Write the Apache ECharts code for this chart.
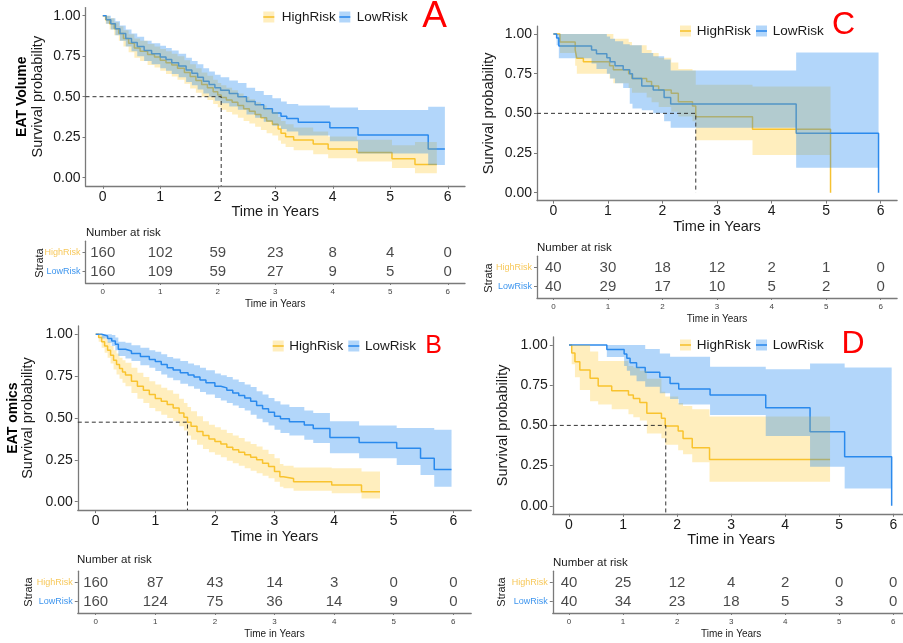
<!DOCTYPE html>
<html><head><meta charset="utf-8">
<script src="https://cdn.jsdelivr.net/npm/echarts@6/dist/echarts.min.js"></script>
<style>html,body{margin:0;padding:0;background:#fff}#c{width:903px;height:643px}</style>
</head><body><div id="c"></div>
<script>
// ---------------- DATA ----------------
const years = [0, 1, 2, 3, 4, 5, 6];
const probTicks = [0, 0.25, 0.5, 0.75, 1];
const groups = ['HighRisk', 'LowRisk'];

// Panel A (EAT Volume)
const tA_high  = [0,0.05,0.12,0.2,0.28,0.36,0.45,0.55,0.65,0.78,0.9,1.0,1.1,1.2,1.3,1.42,1.52,1.62,1.72,1.82,1.92,2.0,2.06,2.15,2.25,2.35,2.45,2.55,2.65,2.75,2.85,2.95,3.05,3.1,3.18,3.32,3.66,3.92,4.42,5.03,5.43,5.81];
const sA_high  = [1,.975,.95,.92,.89,.86,.83,.80,.78,.76,.745,.725,.71,.695,.675,.65,.625,.60,.575,.555,.53,.51,.495,.48,.465,.445,.425,.41,.39,.37,.35,.33,.30,.275,.253,.233,.208,.177,.156,.117,.082,.082];
const loA_high = [1,.95,.915,.88,.845,.81,.775,.74,.72,.695,.68,.66,.64,.625,.605,.58,.55,.525,.50,.48,.455,.435,.42,.405,.39,.37,.35,.335,.315,.295,.275,.26,.23,.21,.19,.17,.145,.12,.10,.06,.027,.027];
const upA_high = [1,1,.985,.96,.935,.91,.885,.86,.845,.825,.81,.795,.78,.765,.75,.725,.70,.675,.65,.63,.605,.585,.57,.555,.54,.52,.50,.485,.465,.445,.425,.405,.375,.35,.33,.31,.285,.255,.235,.20,.22,.22];
const tA_low   = [0,0.06,0.14,0.22,0.3,0.4,0.5,0.6,0.72,0.85,1.0,1.1,1.2,1.32,1.45,1.55,1.65,1.75,1.85,1.95,2.05,2.2,2.35,2.5,2.65,2.8,2.95,3.1,3.2,3.4,3.95,4.44,5.66,5.95];
const sA_low   = [1,.975,.95,.92,.89,.86,.835,.81,.785,.765,.745,.73,.71,.69,.665,.645,.62,.595,.575,.555,.54,.52,.50,.47,.45,.425,.40,.38,.366,.342,.309,.263,.177,.177];
const loA_low  = [1,.95,.915,.88,.845,.81,.78,.75,.72,.70,.675,.66,.64,.62,.59,.57,.545,.52,.50,.475,.46,.44,.42,.39,.37,.345,.32,.30,.285,.26,.225,.15,.078,.078];
const upA_low  = [1,1,.985,.965,.94,.915,.89,.87,.845,.83,.815,.80,.785,.765,.74,.72,.70,.675,.655,.635,.62,.60,.585,.555,.535,.51,.49,.47,.455,.445,.434,.418,.438,.438];
const riskA_high = [160,102,59,23,8,4,0];
const riskA_low  = [160,109,59,27,9,5,0];

// Panel B (EAT omics)
const tB_high  = [0,.05,.1,.15,.2,.25,.3,.35,.4,.45,.5,.6,.7,.8,.9,1.0,1.1,1.2,1.3,1.4,1.48,1.54,1.6,1.7,1.8,1.9,2.0,2.1,2.2,2.3,2.4,2.5,2.6,2.7,2.8,2.9,3.0,3.09,3.15,3.32,3.96,4.46,4.77];
const sB_high  = [1,.98,.955,.93,.905,.875,.845,.82,.795,.775,.757,.72,.69,.665,.64,.617,.60,.58,.56,.53,.505,.475,.45,.42,.395,.375,.36,.345,.325,.31,.295,.28,.265,.25,.23,.21,.18,.149,.139,.12,.10,.06,.06];
const loB_high = [1,.955,.92,.89,.86,.825,.79,.76,.735,.71,.69,.65,.615,.59,.56,.54,.52,.50,.48,.45,.425,.395,.37,.34,.315,.295,.28,.265,.245,.23,.215,.20,.185,.17,.155,.14,.12,.09,.08,.065,.05,.02,.02];
const upB_high = [1,1,.99,.975,.955,.93,.905,.885,.86,.845,.83,.80,.77,.745,.72,.70,.68,.665,.645,.615,.59,.565,.54,.51,.48,.46,.445,.43,.41,.395,.38,.36,.345,.33,.31,.285,.26,.225,.215,.205,.20,.18,.18];
const tB_low   = [0,.1,.2,.27,.33,.38,.5,.6,.75,.9,1.0,1.1,1.2,1.3,1.42,1.55,1.65,1.75,1.85,2.0,2.1,2.2,2.3,2.4,2.5,2.6,2.7,2.8,2.9,3.0,3.1,3.25,3.5,3.65,3.93,4.42,5.05,5.45,5.68,5.97];
const sB_low   = [1,.99,.975,.96,.94,.91,.90,.885,.867,.85,.837,.82,.80,.787,.77,.757,.745,.727,.71,.69,.68,.665,.65,.635,.62,.60,.575,.555,.535,.51,.495,.478,.458,.438,.384,.353,.319,.259,.193,.193];
const loB_low  = [1,.975,.95,.93,.905,.87,.855,.84,.815,.80,.78,.76,.74,.725,.705,.69,.675,.655,.64,.62,.605,.59,.575,.56,.545,.52,.495,.475,.455,.43,.41,.395,.37,.35,.29,.26,.22,.16,.09,.09];
const upB_low  = [1,1,1,.995,.98,.955,.95,.935,.92,.905,.895,.88,.865,.855,.84,.825,.815,.80,.785,.765,.755,.745,.73,.715,.70,.685,.66,.64,.62,.60,.58,.565,.545,.53,.48,.455,.44,.44,.43,.43];
const riskB_high = [160,87,43,14,3,0,0];
const riskB_low  = [160,124,75,36,14,9,0];

// Panel C
const tC_high  = [0,.12,.4,.43,.55,1.03,1.1,1.38,1.44,1.71,1.8,1.93,2.16,2.29,2.55,2.61,3.65,5.08];
const sC_high  = [1,.95,.90,.847,.826,.80,.775,.75,.72,.70,.672,.647,.626,.573,.546,.479,.40,0];
const loC_high = [1,.88,.80,.75,.75,.72,.69,.66,.63,.60,.57,.54,.51,.48,.45,.33,.237,.237];
const upC_high = [1,1,1,1,1,1,.97,.95,.93,.90,.88,.85,.82,.78,.77,.68,.67,.67];
const tC_low   = [0,.06,.1,.7,.79,.98,1.04,1.13,1.28,1.4,1.45,1.62,1.83,2.03,2.15,4.45,5.96];
const sC_low   = [1,.975,.925,.90,.875,.85,.825,.80,.775,.75,.72,.672,.647,.60,.559,.374,0];
const loC_low  = [1,.93,.847,.815,.78,.75,.72,.69,.66,.56,.53,.52,.50,.45,.41,.157,.157];
const upC_low  = [1,1,1,1,1,.985,.97,.955,.935,.93,.93,.88,.86,.84,.77,.884,.884];
const riskC_high = [40,30,18,12,2,1,0];
const riskC_low  = [40,29,17,10,5,2,0];

// Panel D
const tD_high  = [0,.05,.11,.20,.39,.54,.79,1.10,1.19,1.31,1.44,1.71,1.78,2.02,2.11,2.28,2.60,4.83];
const sD_high  = [1,.95,.896,.844,.793,.745,.716,.689,.668,.643,.575,.544,.496,.465,.419,.361,.288,.288];
const loD_high = [1,.88,.80,.72,.65,.63,.60,.57,.55,.53,.45,.42,.38,.345,.32,.27,.15,.15];
const upD_high = [1,1,1,1,.96,.90,.90,.87,.86,.84,.79,.71,.68,.64,.62,.60,.555,.555];
const tD_low   = [0,.70,1.02,1.07,1.13,1.25,1.41,1.68,1.87,2.03,2.61,3.64,4.46,5.1,5.97];
const sD_low   = [1,.973,.945,.918,.89,.86,.83,.80,.76,.726,.689,.61,.46,.305,0];
const loD_low  = [1,.925,.87,.84,.81,.775,.74,.70,.665,.63,.564,.434,.243,.108,.108];
const upD_low  = [1,1,1,1,1,1,.975,.948,.927,.927,.865,.85,.885,.86,.86];
const riskD_high = [40,25,12,4,2,0,0];
const riskD_low  = [40,34,23,18,5,3,0];

// median survival lines for panels A, B, C, D: time, level, lower end of the drop line
const medT = [2.06, 1.54, 2.61, 1.79];
const medS = [0.5, 0.475, 0.5, 0.5];
const medEnd = [-0.05, -0.05, 0, -0.05];

// ---------------- STYLE / LAYOUT ----------------
const FONT = '"Liberation Sans", Arial, Helvetica, sans-serif';
const HIGH_LINE = '#F6C232', HIGH_FILL = 'rgba(255,198,40,0.30)';
const LOW_LINE = '#2E8AEC', LOW_FILL = 'rgba(35,138,240,0.35)';
const HIGH_LAB = '#F7C85A', LOW_LAB = '#3D95EE';
const AXIS = '#7a7a7a';
const TXT = '#1a1a1a';

const panels = [
  { letter:'A', lp:[434.5,17], ls:37,
    plot:{left:85.5, top:7.6, width:379.5, height:178.2},
    table:{left:85.5, top:241.2, width:379.5, height:41.8},
    high:[tA_high,sA_high,loA_high,upA_high], low:[tA_low,sA_low,loA_low,upA_low],
    risk:[riskA_high, riskA_low], med:0,
    yt:{bold:'EAT Volume', bx:22, x:38}, leg:{y:17, hx:263.3, htx:281.7, lx:339.3, ltx:356.7},
    strata:[40,263], nar:[86,233] },
  { letter:'C', lp:[843.5,25], ls:32,
    plot:{left:537, top:26.1, width:360.1, height:174.5},
    table:{left:537, top:256.2, width:360.1, height:41.8},
    high:[tC_high,sC_high,loC_high,upC_high], low:[tC_low,sC_low,loC_low,upC_low],
    risk:[riskC_high, riskC_low], med:2,
    yt:{x:489}, leg:{y:31, hx:680, htx:696.7, lx:756, ltx:772.7},
    strata:[489,278], nar:[537,248] },
  { letter:'B', lp:[433.5,346.5], ls:25,
    plot:{left:77.8, top:325.9, width:393.4, height:184.2},
    table:{left:77.8, top:571.2, width:393.4, height:41.8},
    high:[tB_high,sB_high,loB_high,upB_high], low:[tB_low,sB_low,loB_low,upB_low],
    risk:[riskB_high, riskB_low], med:1,
    yt:{bold:'EAT omics', bx:13, x:28}, leg:{y:346, hx:272.7, htx:289.3, lx:348.3, ltx:365},
    strata:[29,592], nar:[77,560] },
  { letter:'D', lp:[853,344.5], ls:32,
    plot:{left:552.8, top:337, width:356.7, height:176.8},
    table:{left:552.8, top:571.2, width:356.7, height:41.8},
    high:[tD_high,sD_high,loD_high,upD_high], low:[tD_low,sD_low,loD_low,upD_low],
    risk:[riskD_high, riskD_low], med:3,
    yt:{x:503}, leg:{y:345, hx:680, htx:696.7, lx:756, ltx:772.7},
    strata:[502,592], nar:[553,563] }
];

const grid = [], xAxis = [], yAxis = [], series = [], graphic = [];

function stepLine(idx, arr, color, name) {
  const [t, s] = arr;
  series.push({ type:'line', name, xAxisIndex:idx, yAxisIndex:idx, step:'end', symbol:'none',
    data: t.map((x,k)=>[x, s[k]]), lineStyle:{color, width:1.5}, itemStyle:{color},
    silent:true, z:3 });
}
// confidence ribbon: one step-shaped polygon built through the axes' coord()
function band(idx, arr, fill) {
  const [t, , lo, up] = arr;
  series.push({ type:'custom', xAxisIndex:idx, yAxisIndex:idx, silent:true, z:4,
    data: t.map((x,k)=>[x, lo[k], up[k]]),
    encode:{x:0, y:[1,2]},
    renderItem:(params, api) => {
      if (params.dataIndexInside !== 0) return null;
      const n = params.dataInsideLength;
      const top = [], bot = [];
      for (let k = 0; k < n; k++) {
        const x0 = api.value(0, k), x1 = k < n-1 ? api.value(0, k+1) : x0;
        const l = api.value(1, k), u = api.value(2, k);
        top.push(api.coord([x0, u]), api.coord([x1, u]));
        bot.push(api.coord([x0, l]), api.coord([x1, l]));
      }
      return { type:'polygon', shape:{points: top.concat(bot.reverse())}, style:{fill, stroke:null} };
    } });
}
function txt(x, y, text, size, opts) {
  opts = opts || {};
  graphic.push({ type:'text', x, y, rotation: opts.rot || 0, silent:true, z:10,
    style:{ text, fontSize:size, fontFamily:FONT, fontWeight: opts.weight || 'normal',
      fill: opts.fill || TXT, align: opts.align || 'center', verticalAlign:'middle',
      textAlign: opts.align || 'center', textVerticalAlign:'middle' } });
}

panels.forEach((p, i) => {
  const gp = 2*i, gt = 2*i + 1;
  grid.push(Object.assign({ containLabel:false, outerBoundsMode:'none' }, p.plot));
  grid.push(Object.assign({ containLabel:false, outerBoundsMode:'none' }, p.table));

  // plot axes
  xAxis.push({ gridIndex:gp, type:'value', min:-0.3, max:6.3,
    axisLine:{show:true, onZero:false, lineStyle:{color:AXIS, width:1.3}},
    axisTick:{show:true, customValues:years, length:3, lineStyle:{color:AXIS, width:1}},
    axisLabel:{customValues:years, fontSize:14, color:TXT, margin:4, fontFamily:FONT},
    splitLine:{show:false},
    name:'Time in Years', nameLocation:'middle', nameGap:18,
    nameTextStyle:{fontSize:14.5, color:TXT, fontFamily:FONT} });
  yAxis.push({ gridIndex:gp, type:'value', min:-0.05, max:1.05,
    axisLine:{show:true, onZero:false, lineStyle:{color:AXIS, width:1.3}},
    axisTick:{show:true, customValues:probTicks, length:3, lineStyle:{color:AXIS, width:1}},
    axisLabel:{customValues:probTicks, fontSize:14, color:TXT, margin:5, fontFamily:FONT,
      formatter:v => Number(v).toFixed(2)},
    splitLine:{show:false} });

  // table axes
  xAxis.push({ gridIndex:gt, type:'value', min:-0.3, max:6.3,
    axisLine:{show:true, onZero:false, lineStyle:{color:AXIS, width:1.3}},
    axisTick:{show:true, customValues:years, length:2, lineStyle:{color:AXIS, width:1}},
    axisLabel:{customValues:years, fontSize:8, color:'#444', margin:5, fontFamily:FONT},
    splitLine:{show:false},
    name:'Time in Years', nameLocation:'middle', nameGap:16,
    nameTextStyle:{fontSize:10, color:TXT, fontFamily:FONT} });
  yAxis.push({ gridIndex:gt, type:'value', min:0.4, max:2.6,
    axisLine:{show:true, onZero:false, lineStyle:{color:AXIS, width:1.3}},
    axisTick:{show:true, customValues:[1,2], length:3, lineStyle:{color:AXIS, width:1}},
    axisLabel:{customValues:[1,2], margin:5, fontFamily:FONT,
      formatter:v => (Math.round(v) === 2 ? '{h|' + groups[0] + '}' : '{l|' + groups[1] + '}'),
      rich:{ h:{color:HIGH_LAB, fontSize:9, fontFamily:FONT}, l:{color:LOW_LAB, fontSize:9, fontFamily:FONT} } },
    splitLine:{show:false} });

  // curves (lines first, ribbons drawn over them as in survminer)
  stepLine(gp, p.high, HIGH_LINE, groups[0]);
  stepLine(gp, p.low, LOW_LINE, groups[1]);
  band(gp, p.high, HIGH_FILL);
  band(gp, p.low, LOW_FILL);

  // median line
  const mt = medT[p.med], ms = medS[p.med];
  series.push({ type:'line', xAxisIndex:gp, yAxisIndex:gp, symbol:'none', silent:true, z:5,
    data:[[-0.3, ms],[mt, ms],[mt, medEnd[p.med]]],
    lineStyle:{color:'#333', width:1, type:[4,3]} });

  // risk table numbers
  [0,1].forEach(g => {
    const row = g === 0 ? 2 : 1;
    series.push({ type:'scatter', xAxisIndex:gt, yAxisIndex:gt, symbolSize:1, silent:true,
      itemStyle:{color:'rgba(0,0,0,0)'},
      data: years.map((x,k)=>[x, row, p.risk[g][k]]),
      label:{show:true, position:'inside', formatter:q => String(q.data[2]),
        fontSize:15, color:TXT, fontFamily:FONT} });
  });

  // legend (graphic keys as in ggplot)
  [[p.leg.hx, p.leg.htx, HIGH_LINE, HIGH_FILL, groups[0]], [p.leg.lx, p.leg.ltx, LOW_LINE, LOW_FILL, groups[1]]]
    .forEach(([kx, tx, lc, fc, name]) => {
      graphic.push({ type:'rect', silent:true, z:10, shape:{x:kx, y:p.leg.y - 5.5, width:11, height:11}, style:{fill:fc} });
      graphic.push({ type:'line', silent:true, z:10, shape:{x1:kx, y1:p.leg.y, x2:kx+11, y2:p.leg.y}, style:{stroke:lc, lineWidth:1.6} });
      txt(tx, p.leg.y, name, 13.5, {align:'left'});
    });

  // panel letter
  txt(p.lp[0], p.lp[1], p.letter, p.ls, {fill:'#FF0000'});

  // y titles
  const cy = p.plot.top + p.plot.height/2;
  txt(p.yt.x, cy, 'Survival probability', 14.5, {rot:Math.PI/2});
  if (p.yt.bold) txt(p.yt.bx, cy, p.yt.bold, 14, {rot:Math.PI/2, weight:'bold', fill:'#000'});

  // table titles
  txt(p.nar[0], p.nar[1], 'Number at risk', 11.5, {align:'left'});
  txt(p.strata[0], p.strata[1], 'Strata', 11, {rot:Math.PI/2});
});

const chart = echarts.init(document.getElementById('c'), null, {renderer:'canvas'});
chart.setOption({ backgroundColor:'#ffffff', animation:false, textStyle:{fontFamily:FONT},
  grid, xAxis, yAxis, series, graphic });
</script></body></html>
